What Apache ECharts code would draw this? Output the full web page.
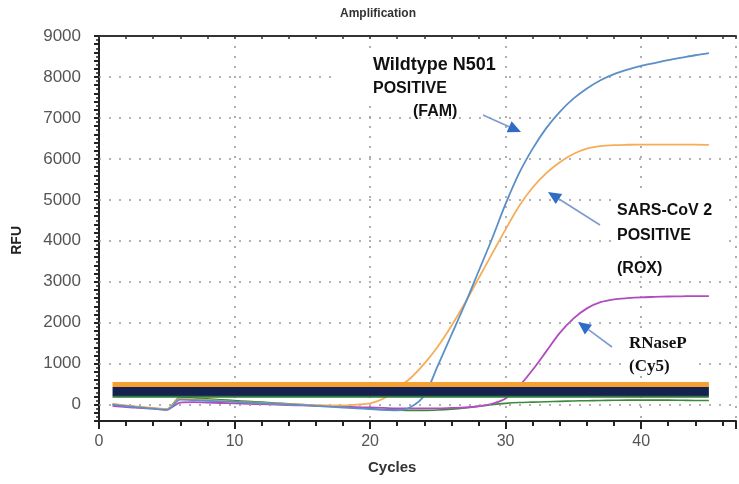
<!DOCTYPE html>
<html>
<head>
<meta charset="utf-8">
<script src="https://cdn.jsdelivr.net/npm/echarts@6/dist/echarts.min.js"></script>
<style>
html,body{margin:0;padding:0;background:#fff;}
#chart{width:739px;height:484px;}
</style>
</head>
<body>
<div id="chart"></div>
<script>
// ---- data ----
const cycles = [1,2,3,4,5,6,7,8,9,10,11,12,13,14,15,16,17,18,19,20,21,22,23,24,25,26,27,28,29,30,31,32,33,34,35,36,37,38,39,40,41,42,43,44,45];
const famRFU = [0,-40,-70,-100,-130,120,110,95,80,65,50,35,20,5,-10,-30,-50,-70,-90,-110,-130,-140,-60,220,950,1700,2450,3250,4050,4900,5650,6250,6750,7150,7470,7720,7920,8070,8180,8270,8340,8410,8470,8530,8580];
const roxRFU = [20,-20,-50,-80,-110,150,130,110,90,70,55,40,25,10,0,-10,-20,-20,0,30,150,400,650,1000,1420,1920,2480,3080,3680,4280,4850,5300,5650,5920,6120,6250,6310,6335,6345,6350,6350,6350,6350,6350,6340];
const cy5RFU = [-30,-60,-80,-100,-120,50,60,50,40,30,20,10,0,-10,-20,-30,-40,-50,-60,-70,-80,-90,-90,-90,-90,-80,-70,-40,20,150,450,850,1300,1750,2100,2350,2500,2570,2600,2620,2630,2640,2645,2650,2650];
const ctrlRFU = [10,-30,-60,-90,-110,180,160,140,120,100,80,60,40,20,0,-20,-40,-60,-80,-100,-120,-130,-140,-140,-130,-110,-80,-40,0,30,50,60,70,80,90,95,100,105,110,110,110,110,105,100,100];
const thresholdCycles = [1,45];
const thrROX = 490;
const thrFAM = 320;
const thrCy5 = 195;
const yGridValues = [0,1000,2000,3000,4000,5000,6000,7000,8000];

function pairs(xs, ys){ return xs.map((x,i)=>[x, ys[i]]); }
function flat(v){ return thresholdCycles.map(c=>[c, v]); }

const chart = echarts.init(document.getElementById('chart'), null, {renderer:'canvas'});

// arrows (annotation layout)
function arrow(tail, tip){
  const dx = tip[0]-tail[0], dy = tip[1]-tail[1];
  const len = Math.sqrt(dx*dx+dy*dy);
  const ux = dx/len, uy = dy/len;
  const L = 13, W = 6;
  const bx = tip[0]-ux*L, by = tip[1]-uy*L;
  return [
    {type:'line', shape:{x1:tail[0], y1:tail[1], x2:bx, y2:by}, style:{stroke:'#7d9bd0', lineWidth:1.6}, z:100},
    {type:'polygon', shape:{points:[[tip[0],tip[1]],[bx-uy*W,by+ux*W],[bx+uy*W,by-ux*W]]}, style:{fill:'#2f6cc6'}, z:101}
  ];
}

const sansB = 'bold 16px "Liberation Sans", Arial, sans-serif';
const serifB = 'bold 17px "Liberation Serif", "Times New Roman", serif';
function box(x, y, w, h){
  return {type:'rect', shape:{x:x, y:y, width:w, height:h}, style:{fill:'#fff'}, z:50};
}

const graphics = [
  {type:'text', left:340, top:8, style:{text:'Amplification', font:'bold 12px "Liberation Sans", Arial, sans-serif', fill:'#333'}},
  {type:'text', left:10, top:226, rotation:Math.PI/2, style:{text:'RFU', font:'bold 14px "Liberation Sans", Arial, sans-serif', fill:'#222'}},
  {type:'text', left:368, top:460, style:{text:'Cycles', font:'bold 15px "Liberation Sans", Arial, sans-serif', fill:'#333'}},
  box(335, 48, 170, 55),
  box(613, 196, 110, 54),
  box(627, 335, 64, 40),
  {type:'text', left:373, top:56, style:{text:'Wildtype N501', font:'bold 18px "Liberation Sans", Arial, sans-serif', fill:'#111'}, z:110},
  {type:'text', left:373, top:81, style:{text:'POSITIVE', font:sansB, fill:'#111'}, z:110},
  {type:'text', left:413, top:104, style:{text:'(FAM)', font:sansB, fill:'#111'}, z:110},
  {type:'text', left:617, top:203, style:{text:'SARS-CoV 2', font:sansB, fill:'#111'}, z:110},
  {type:'text', left:617, top:228, style:{text:'POSITIVE', font:sansB, fill:'#111'}, z:110},
  {type:'text', left:617, top:261, style:{text:'(ROX)', font:sansB, fill:'#111'}, z:110},
  {type:'text', left:629, top:335, style:{text:'RNaseP', font:serifB, fill:'#111'}, z:110},
  {type:'text', left:629, top:358, style:{text:'(Cy5)', font:serifB, fill:'#111'}, z:110}
].concat(arrow([483,115],[521,132]), arrow([600,225],[548,192]), arrow([612,347],[578,322]));

const dotted = {color:'#9a9a9a', width:1.6, type:[2,8]};

chart.setOption({
  animation:false,
  backgroundColor:'#fff',
  grid:{left:99, top:36, width:644, height:385, containLabel:false},
  xAxis:[
    {type:'value', position:'bottom', min:0, max:47, interval:2,
     axisLine:{show:true, onZero:false, lineStyle:{color:'#222', width:2}},
     axisTick:{show:true, length:5, lineStyle:{color:'#222', width:2}},
     axisLabel:{show:true, margin:13, color:'#555', fontSize:16, fontFamily:'"Liberation Sans", Arial, sans-serif',
       formatter:v=> (v%10===0 ? String(v) : '')},
     splitLine:{show:false}},
    {type:'value', position:'bottom', min:0, max:47, interval:10,
     axisLine:{show:false, onZero:false}, axisTick:{show:true, length:8, lineStyle:{color:'#222', width:2}},
     axisLabel:{show:false}, splitLine:{show:true, lineStyle:dotted}},
    {type:'value', position:'top', min:0, max:47, interval:2,
     axisLine:{show:true, onZero:false, lineStyle:{color:'#333', width:2}},
     axisTick:{show:true, inside:true, length:3, lineStyle:{color:'#333', width:1.5}},
     axisLabel:{show:false}, splitLine:{show:false}}
  ],
  yAxis:{type:'value', min:-400, max:9000, interval:200,
    axisLine:{show:true, onZero:false, lineStyle:{color:'#222', width:2}},
    axisTick:{show:true, length:5, lineStyle:{color:'#222', width:2}},
    minorTick:{show:true, splitNumber:2, length:3, lineStyle:{color:'#222', width:1.5}},
    axisLabel:{margin:18, color:'#555', fontSize:17, fontFamily:'"Liberation Sans", Arial, sans-serif',
      formatter:v=> (v%1000===0 ? String(v) : '')},
    splitLine:{show:false}},
  series:[
    {name:'grid', type:'line', data:[], silent:true,
     markLine:{silent:true, symbol:'none', label:{show:false}, lineStyle:dotted,
       data: yGridValues.map(v=>({yAxis:v}))}},
    {name:'Control', type:'line', data:pairs(cycles, ctrlRFU), showSymbol:false, smooth:0.3,
     lineStyle:{color:'#3b8a3b', width:1.6}, z:3},
    {name:'Cy5', type:'line', data:pairs(cycles, cy5RFU), showSymbol:false, smooth:0.3,
     lineStyle:{color:'#b04cc0', width:1.8}, z:4},
    {name:'ROX', type:'line', data:pairs(cycles, roxRFU), showSymbol:false, smooth:0.3,
     lineStyle:{color:'#f6ad5a', width:1.8}, z:5},
    {name:'FAM', type:'line', data:pairs(cycles, famRFU), showSymbol:false, smooth:0.3,
     lineStyle:{color:'#5b8fc8', width:1.8}, z:6},
    {name:'thrROX', type:'line', data:flat(thrROX), showSymbol:false,
     lineStyle:{color:'#f5a030', width:5}, z:10},
    {name:'thrFAM', type:'line', data:flat(thrFAM), showSymbol:false,
     lineStyle:{color:'#15224f', width:9}, z:11},
    {name:'thrCy5', type:'line', data:flat(thrCy5), showSymbol:false,
     lineStyle:{color:'#2f7a3a', width:2}, z:12}
  ],
  graphic: graphics
});
</script>
</body>
</html>
